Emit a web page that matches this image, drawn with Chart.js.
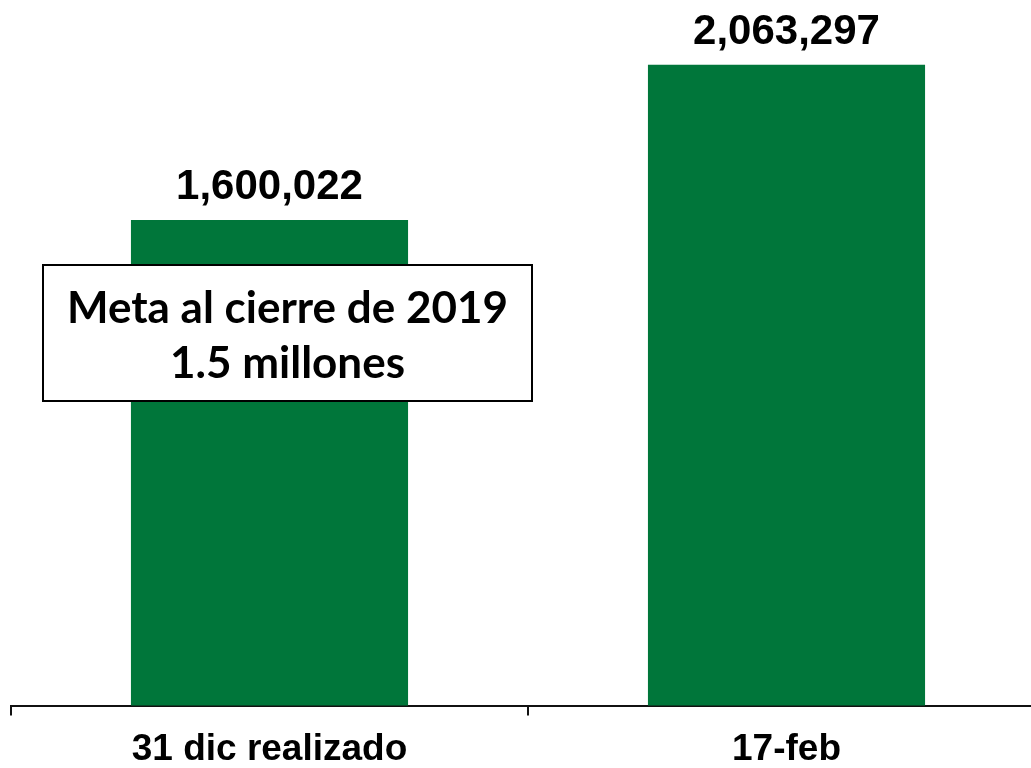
<!DOCTYPE html>
<html>
<head>
<meta charset="utf-8">
<script src="https://cdn.jsdelivr.net/npm/chart.js@4"></script>
<style>
  html, body { margin: 0; padding: 0; background: #fff; overflow: hidden; }
  #wrap { width: 1031px; height: 768px; overflow: hidden; }
</style>
</head>
<body>
<div id="wrap"><canvas id="barChart" width="1045" height="784"></canvas></div>
<script>
// Chart data
const categories = ["31 dic realizado", "17-feb"];
const values = [1600022, 2063297];
const noteLines = ["Meta al cierre de 2019", "1.5 millones"];

const GREEN = "#00763a";

// value labels above each bar
const valueLabels = {
  id: "valueLabels",
  afterDatasetsDraw(chart) {
    const ctx = chart.ctx;
    const meta = chart.getDatasetMeta(0);
    ctx.save();
    ctx.font = "bold 42px 'Liberation Sans', Arial, sans-serif";
    ctx.fillStyle = "#000";
    ctx.textAlign = "center";
    ctx.textBaseline = "alphabetic";
    meta.data.forEach((bar, i) => {
      ctx.fillText(values[i].toLocaleString("en-US"), bar.x, bar.y - 21);
    });
    ctx.restore();
  }
};

// goal note box over first bar
const noteBox = {
  id: "noteBox",
  afterDraw(chart) {
    const ctx = chart.ctx;
    const x0 = 43, y0 = 265, w = 489, h = 136;
    ctx.save();
    ctx.fillStyle = "#fff";
    ctx.fillRect(x0, y0, w, h);
    ctx.strokeStyle = "#000";
    ctx.lineWidth = 2;
    ctx.strokeRect(x0, y0, w, h);
    ctx.fillStyle = "#000";
    ctx.font = "bold 44px Lato, 'Open Sans', sans-serif";
    ctx.textAlign = "center";
    ctx.textBaseline = "alphabetic";
    const cx = x0 + w / 2;
    ctx.fillText(noteLines[0], cx, 323);
    ctx.fillText(noteLines[1], cx, 378);
    ctx.restore();
  }
};

const ctx = document.getElementById("barChart");

new Chart(ctx, {
  type: "bar",
  data: {
    labels: categories,
    datasets: [{
      data: values,
      backgroundColor: GREEN,
      borderWidth: 0,
      barPercentage: 1,
      categoryPercentage: 0.536
    }]
  },
  options: {
    responsive: false,
    animation: false,
    layout: { padding: { left: 11, right: 0, top: 0, bottom: 0 } },
    plugins: {
      legend: { display: false },
      tooltip: { enabled: false }
    },
    scales: {
      x: {
        offset: true,
        grid: {
          offset: true,
          drawOnChartArea: false,
          drawTicks: true,
          tickLength: 10,
          color: "#111",
          lineWidth: 2
        },
        border: { display: true, color: "#111", width: 2 },
        ticks: {
          color: "#000",
          padding: 12,
          font: { family: "'Liberation Sans', Arial, sans-serif", size: 37, weight: "bold" }
        }
      },
      y: {
        display: false,
        min: 150000,
        max: 2257000
      }
    }
  },
  plugins: [valueLabels, noteBox]
});
</script>
</body>
</html>
